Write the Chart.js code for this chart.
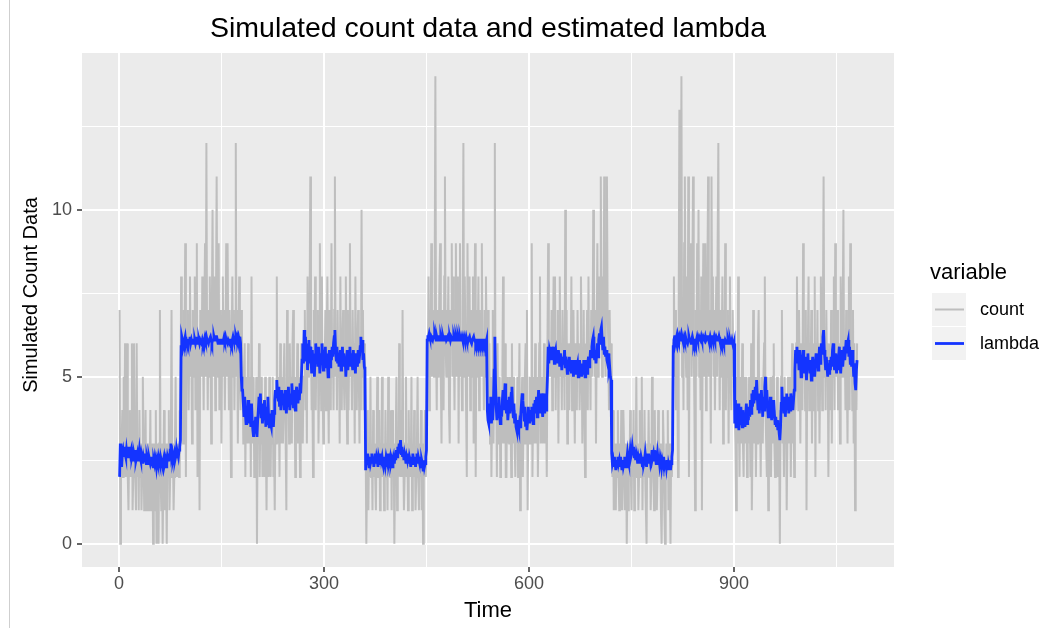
<!DOCTYPE html>
<html><head><meta charset="utf-8">
<script src="https://cdn.jsdelivr.net/npm/chart.js@4.4.1/dist/chart.umd.min.js"></script>
<style>
html,body{margin:0;padding:0;background:#fff;}
#wrap{position:relative;width:1045px;height:628px;overflow:hidden;}
#edge{position:absolute;left:9px;top:0;width:1px;height:628px;background:#cfcfcf;}
canvas{position:absolute;left:0;top:0;}
</style></head>
<body><div id="wrap"><canvas id="c" width="1045" height="628"></canvas><div id="edge"></div></div>
<script>
const chartTitle = 'Simulated count data and estimated lambda';
const xTitle = 'Time';
const yTitle = 'Simulated Count Data';
const legendTitle = 'variable';
const seriesNames = ['count', 'lambda'];
const xMajorTicks = [0, 300, 600, 900];
const xMinorTicks = [150, 450, 750, 1050];
const yMajorTicks = [0, 5, 10];
const yMinorTicks = [2.5, 7.5, 12.5];

const countValues = [
7,0,2,3,4,2,5,3,6,2, 3,6,2,1,3,4,2,3,6,1, 2,6,3,2,1,6,2,3,1,4, 2,3,1,2,5,3,1,2,4,1, 2,3,1,3,2,4,1,2,3,0,
2,3,1,4,0,2,3,0,3,7, 2,1,3,0,2,4,1,3,2,0, 3,2,4,1,2,3,7,2,3,1, 2,3,5,2,3,2,3,2,4,3,
8,6,5,3,7,6,9,2,6,5, 7,4,6,8,5,6,3,7,6,5, 8,4,7,9,2,6,5,1,7,6, 5,8,6,4,7,9,5,12,6,4, 7,5,8,6,3,7,10,6,5,8,
4,7,11,6,5,9,4,6,7,3, 6,8,5,7,4,6,9,5,9,6, 4,7,5,2,6,8,5,7,4,6, 12,5,7,3,6,8,5,4,7,6,
5,3,4,6,2,5,4,3,6,4, 3,5,2,8,4,3,5,2,4,3, 5,0,4,3,6,2,4,3,5,2, 3,4,2,5,3,1,4,3,2,5, 3,2,4,3,5,2,3,1,4,3,
8,3,5,4,2,6,3,5,4,3, 5,6,4,3,1,7,4,5,3,6, 4,5,3,6,7,4,5,2,5,4, 6,3,5,4,2,5,6,4,3,5,
5,7,4,6,3,8,5,6,7,11, 6,4,5,2,7,5,8,4,6,5, 7,3,5,9,6,4,8,5,3,6, 5,7,4,6,8,5,3,7,6,4, 9,5,6,4,7,11,5,6,4,7,
5,6,3,8,5,4,6,7,5,4, 6,8,5,3,7,4,6,9,5,6, 4,7,5,6,3,8,5,4,6,7, 5,3,6,4,10,5,7,4,6,5,
3,0,2,4,1,3,2,5,2,3, 1,4,2,3,2,1,3,5,2,2, 4,1,3,2,5,2,3,1,2,4, 2,3,1,5,2,3,2,4,1,4, 2,3,0,2,3,5,1,3,2,6,
3,2,4,2,7,3,1,2,3,5, 2,3,1,4,2,3,2,5,1,3, 2,4,3,1,2,3,5,2,1,3, 2,4,1,3,0,2,3,4,2,3,
6,5,8,4,7,6,9,5,7,6, 5,8,14,6,4,7,5,6,8,9, 5,3,7,6,4,8,11,6,5,7, 6,8,4,3,7,6,9,5,8,6, 4,7,9,5,6,8,3,7,9,5,
6,4,7,12,5,8,6,4,2,9, 6,5,8,4,7,6,5,8,3,6, 9,2,7,5,6,8,4,7,5,6, 9,5,6,4,7,5,8,6,4,7,
4,6,3,5,2,4,7,3,5,12, 4,5,2,6,3,4,5,2,4,3, 5,8,3,4,6,2,2,5,3,4, 3,5,4,2,6,3,5,4,3,2, 4,3,5,2,4,6,1,3,4,5,
2,4,3,5,6,3,7,1,4,3, 5,4,3,9,2,4,5,3,6,4, 3,5,2,4,6,8,3,4,5,3, 4,6,3,5,4,2,6,9,5,6,
6,5,7,4,6,8,5,8,4,6, 5,7,3,6,8,5,6,4,7,5, 6,4,10,5,7,3,6,5,4,6, 5,8,4,6,7,5,3,6,5,4, 7,5,6,4,5,8,6,3,5,7,
4,2,6,5,7,4,8,5,6,4, 7,5,6,10,8,5,7,3,6,9, 5,7,8,6,11,7,5,8,6,11, 6,5,9,11,7,6,4,7,5,6,
3,2,4,1,3,2,1,3,2,4, 2,1,3,2,4,1,2,4,3,1, 2,3,0,2,1,3,2,4,2,1, 3,2,4,1,3,2,5,2,3,1, 2,4,3,2,5,1,3,2,4,2,
1,0,3,2,4,2,3,1,2,5, 3,2,1,4,2,3,1,2,4,3, 2,3,1,0,2,4,3,1,0,2, 3,2,4,1,3,2,0,3,2,3,
6,8,5,7,4,6,5,2,7,13, 6,8,14,5,7,4,9,11,6,5, 8,4,11,2,7,6,9,5,8,11, 6,4,1,7,5,9,6,10,5,7, 4,8,1,6,9,5,7,9,4,6,
8,11,5,7,6,3,11,6,8,5, 7,4,6,8,5,9,12,6,4,7, 5,6,8,3,7,5,9,4,6,5, 7,3,6,8,5,4,6,7,5,6,
4,3,1,5,3,8,4,2,5,3, 4,6,3,2,5,4,3,5,2,4, 3,5,4,2,6,1,3,7,4,3, 5,2,4,3,6,7,3,4,2,5, 4,3,5,6,8,4,3,2,5,1,
4,3,5,2,4,3,5,6,3,2, 4,3,5,2,4,3,0,4,5,7, 3,4,2,5,3,4,1,3,5,4, 3,5,2,4,6,3,4,2,5,4,
6,8,5,4,7,5,3,6,5,4, 9,5,6,4,7,1,5,6,8,4, 6,5,7,3,6,5,4,8,2,6, 5,7,4,6,3,5,8,6,4,7, 11,5,6,4,7,5,6,2,5,6,
4,7,3,6,5,8,4,9,6,5, 7,4,6,5,3,8,6,5,7,10, 5,6,4,7,5,3,6,8,4,9, 5,6,4,7,3,6,1,5,4,6
];

const lambdaValues = [
2.0,3.0,2.6,2.3,2.7,2.8,2.6,2.9,2.7,2.6, 2.8,2.6,2.7,2.9,2.6,2.9,2.7,2.8,2.6,2.7, 2.5,2.7,2.6,2.8,2.5,2.6,2.7,2.5,2.6,2.8,
2.6,2.5,2.7,2.6,2.4,2.6,2.5,2.7,2.5,2.4, 2.6,2.5,2.4,2.6,2.5,2.4,2.5,2.6,2.4,2.3, 2.5,2.4,2.6,2.5,2.3,2.5,2.4,2.6,2.5,2.4,
2.6,2.5,2.4,2.3,2.5,2.6,2.4,2.5,2.3,2.4, 2.6,2.5,2.7,2.5,2.8,3.0,2.6,2.7,2.5,2.6, 2.7,2.5,2.6,2.8,2.6,2.7,2.6,2.8,2.9,3.1,
5.9,6.2,6.1,6.1,6.0,6.1,6.2,6.0,6.1,6.1, 6.0,6.1,6.1,6.2,6.0,6.1,6.0,6.1,6.1,6.0, 6.1,6.0,6.1,6.2,6.0,6.0,6.1,6.0,6.1,6.1,
6.0,6.1,6.0,6.1,6.1,6.2,6.1,6.2,6.1,6.1, 6.0,6.1,6.1,6.2,6.1,6.0,6.1,6.1,6.2,6.1, 6.1,6.2,6.2,6.1,6.0,6.1,6.1,6.0,6.1,6.1,
6.0,6.1,6.1,6.2,6.1,6.2,6.1,6.1,6.0,6.1, 6.1,6.0,6.1,6.1,6.0,6.1,6.2,6.1,6.1,6.0, 6.2,6.1,6.2,6.1,6.2,6.1,6.2,6.0,5.0,4.6,
4.6,4.2,3.8,4.4,3.9,3.6,4.1,3.7,4.3,3.8, 3.6,3.9,3.5,4.2,3.7,3.4,3.2,3.6,3.3,3.8, 3.4,3.2,3.7,4.0,4.4,3.9,4.5,3.8,4.2,3.6,
4.0,3.7,4.3,3.9,3.5,4.1,3.6,4.4,3.8,3.5, 3.9,3.6,3.5,4.0,3.7,3.5,3.9,4.3,4.6,4.4, 4.9,4.5,4.3,4.7,4.1,4.4,4.0,4.6,4.2,4.5,
4.3,4.0,4.6,4.2,3.9,4.4,4.1,4.7,4.3,4.0, 4.5,4.2,4.8,4.4,4.1,4.6,4.3,4.0,4.5,4.7, 4.4,4.2,4.6,4.3,4.8,4.5,5.0,5.5,6.0,5.4,
6.4,5.8,6.2,5.5,6.0,5.2,5.7,6.1,5.4,5.9, 5.6,5.1,5.8,5.3,5.7,5.0,5.6,6.0,5.4,5.8, 5.3,5.9,5.5,5.1,5.7,5.4,6.0,5.6,5.2,5.8,
5.5,5.9,5.3,5.7,5.4,5.0,5.6,5.8,5.3,5.7, 5.5,5.9,5.6,6.0,6.2,6.4,5.8,5.5,5.9,5.4, 5.7,5.3,5.6,5.8,5.2,5.5,5.9,5.4,5.7,5.3,
5.6,5.0,5.5,5.8,5.2,5.6,5.4,5.9,5.3,5.7, 5.5,5.2,5.8,5.4,5.6,5.1,5.7,5.5,5.3,5.8, 5.4,5.6,5.9,6.2,5.8,6.1,5.5,5.7,5.3,5.2,
2.2,2.6,2.4,2.7,2.5,2.3,2.6,2.4,2.5,2.7, 2.4,2.6,2.3,2.5,2.7,2.4,2.6,2.5,2.3,2.6, 2.5,2.4,2.7,2.5,2.6,2.4,2.3,2.5,2.6,2.4,
2.6,2.5,2.3,2.7,2.4,2.5,2.6,2.4,2.5,2.3, 2.5,2.6,2.4,2.7,2.5,2.8,2.6,2.9,2.7,3.0, 2.8,3.1,2.7,2.9,2.6,2.8,2.5,2.7,2.6,2.4,
2.6,2.5,2.7,2.4,2.6,2.5,2.3,2.6,2.4,2.7, 2.5,2.4,2.6,2.3,2.5,2.7,2.4,2.6,2.5,2.4, 2.6,2.3,2.5,2.4,2.2,2.5,2.3,2.4,2.6,2.8,
6.1,6.2,6.2,6.3,6.2,6.1,6.2,6.2,6.1,6.2, 6.2,6.3,6.2,6.1,6.2,6.1,6.1,6.2,6.2,6.1, 6.2,6.1,6.1,6.2,6.1,6.1,6.2,6.2,6.1,6.1,
6.2,6.1,6.1,6.2,6.1,6.2,6.2,6.1,6.1,6.2, 6.1,6.1,6.2,6.1,6.1,6.2,6.1,6.1,6.2,6.1, 6.1,6.2,6.1,6.1,6.2,6.1,6.1,6.2,6.1,6.0,
6.1,6.1,6.2,6.1,6.1,6.0,6.1,6.1,6.2,6.1, 6.1,6.0,6.1,6.1,6.0,6.1,6.1,6.0,6.1,6.1, 6.0,6.1,6.1,6.0,6.1,6.1,6.0,6.1,4.0,3.7,
3.6,4.2,3.8,4.4,3.6,4.0,3.7,4.3,5.2,6.2, 4.8,4.1,3.7,4.2,3.8,4.4,3.9,3.6,4.1,3.8, 4.3,4.6,4.0,4.4,4.8,4.2,3.9,4.3,3.7,4.0,
4.4,3.9,4.2,4.5,4.7,4.1,3.8,4.2,3.6,3.9, 3.5,3.4,3.7,3.5,3.4,3.6,3.5,3.9,4.2,4.5, 4.3,4.0,3.7,4.1,3.5,3.8,3.4,3.7,4.1,3.8,
3.6,4.0,3.7,4.1,3.9,3.6,4.2,3.9,4.3,4.0, 4.4,3.8,4.2,4.6,4.0,4.3,3.9,4.5,4.1,3.8, 4.2,4.5,3.9,4.3,4.0,4.4,5.0,5.9,5.4,5.8,
5.7,5.9,5.5,5.8,5.6,5.9,5.4,5.7,5.8,5.5, 5.7,5.4,5.8,5.6,5.3,5.7,5.5,5.2,5.6,5.4, 5.5,5.8,5.3,5.6,5.4,5.1,5.5,5.3,5.6,5.2,
5.4,5.1,5.5,5.3,5.0,5.4,5.2,5.5,5.1,5.3, 5.4,5.0,5.3,5.5,5.2,5.4,5.0,5.3,5.1,5.5, 5.2,5.0,5.3,5.5,5.1,5.4,5.6,5.3,5.5,5.8,
5.6,5.9,6.1,6.2,5.7,5.5,5.8,5.4,5.7,6.0, 5.6,6.1,6.3,6.0,6.4,6.5,6.1,5.8,6.2,5.7, 5.9,5.6,5.8,5.5,5.4,5.7,5.2,5.3,5.0,4.9,
2.7,2.4,2.5,2.3,2.6,2.4,2.2,2.5,2.3,2.6, 2.4,2.5,2.3,2.6,2.4,2.2,2.5,2.3,2.4,2.6, 2.4,2.3,2.5,2.7,2.5,2.4,2.6,2.8,2.6,2.7,
2.9,2.7,2.9,2.6,2.8,2.5,2.7,2.6,2.4,2.6, 2.5,2.7,2.4,2.6,2.5,2.3,2.6,2.4,2.5,2.7, 2.5,2.3,2.6,2.4,2.7,2.5,2.6,2.4,2.5,2.8,
2.6,2.7,2.5,2.8,2.6,2.4,2.5,2.7,2.5,2.6, 2.4,2.6,2.5,2.3,2.5,2.4,2.6,2.3,2.4,2.5, 2.3,2.5,2.2,2.4,2.3,2.5,2.2,2.4,2.6,2.8,
5.9,6.1,6.2,6.2,6.1,6.2,6.3,6.2,6.1,6.2, 6.1,6.2,6.3,6.2,6.1,6.1,6.2,6.1,6.2,6.1, 6.1,6.0,6.1,6.2,6.1,6.1,6.0,6.1,6.2,6.1,
6.0,6.1,6.1,6.0,6.1,6.2,6.1,6.1,6.2,6.2, 6.1,6.2,6.1,6.1,6.2,6.2,6.1,6.2,6.1,6.1, 6.2,6.2,6.1,6.1,6.2,6.1,6.2,6.2,6.1,6.1,
6.2,6.1,6.1,6.2,6.2,6.1,6.1,6.2,6.1,6.1, 6.1,6.0,6.1,6.1,6.0,6.0,6.1,6.1,6.0,6.0, 6.1,6.0,6.0,6.1,6.0,6.0,6.1,6.0,5.9,6.0,
3.6,4.3,3.5,4.0,3.7,4.2,3.4,3.9,3.6,4.1, 3.7,3.5,4.0,3.6,3.9,3.5,3.8,4.2,3.6,4.0, 3.7,4.1,3.8,4.3,3.9,4.5,4.1,4.6,4.2,4.4,
4.7,4.3,4.9,4.4,4.0,4.5,3.9,4.3,4.1,4.6, 4.2,3.8,4.4,4.0,4.7,5.0,4.3,4.6,4.1,3.8, 4.2,3.9,4.4,4.0,3.7,4.1,3.8,4.3,3.9,3.6,
3.8,3.5,3.7,3.4,3.6,3.3,3.1,3.5,4.2,4.7, 4.1,4.4,3.9,4.3,3.8,4.2,4.5,4.0,4.4,3.9, 4.3,4.0,4.5,4.1,4.4,4.0,4.3,4.6,5.2,5.8,
5.6,5.9,5.4,5.7,5.2,5.8,5.5,5.0,5.6,5.3, 5.8,5.4,5.1,5.6,5.3,4.9,5.4,5.7,5.2,5.5, 5.1,5.4,4.9,5.3,5.6,5.2,5.5,5.0,5.4,5.7,
5.3,5.6,5.2,5.5,5.9,5.4,5.8,6.0,5.7,6.2, 6.4,5.8,5.5,5.2,5.6,5.3,5.0,5.4,5.1,5.5, 5.2,5.6,5.3,5.8,6.0,5.5,5.2,5.7,5.4,5.1,
5.5,5.2,5.6,5.9,5.4,5.1,5.5,5.8,5.3,5.6, 5.9,5.5,5.8,6.1,5.7,6.0,6.1,5.6,5.9,5.4, 5.7,5.3,5.8,5.5,5.0,5.4,4.8,4.6,5.2,5.5
];

const timeIndex = countValues.map((_, i) => i + 1);

const FAMILY = '"Liberation Sans", Arial, Helvetica, sans-serif';
Chart.defaults.font.family = FAMILY;

const countColor = '#BEBEBE';
const lambdaColor = '#1434FF';

const ggPanel = {
  id: 'ggPanel',
  beforeDraw(chart) {
    const {ctx, chartArea: a} = chart;
    ctx.save();
    ctx.fillStyle = '#EBEBEB';
    ctx.fillRect(a.left, a.top, a.right - a.left, a.bottom - a.top);
    ctx.restore();
  },
  afterDraw(chart) {
    const ctx = chart.ctx;
    // y axis title
    ctx.save();
    ctx.translate(31, 295);
    ctx.rotate(-Math.PI / 2);
    ctx.font = '20px ' + FAMILY;
    ctx.fillStyle = '#000';
    ctx.textAlign = 'center';
    ctx.textBaseline = 'middle';
    ctx.fillText(yTitle, 0, 0);
    ctx.restore();
    // legend
    ctx.save();
    ctx.font = '22px ' + FAMILY;
    ctx.fillStyle = '#000';
    ctx.textAlign = 'left';
    ctx.textBaseline = 'alphabetic';
    ctx.fillText(legendTitle, 930, 279);
    chart.data.datasets.forEach((ds, i) => {
      const y0 = 293 + i * 34;
      ctx.fillStyle = '#F2F2F2';
      ctx.fillRect(932, y0, 34, 33);
      ctx.strokeStyle = ds.borderColor;
      ctx.lineWidth = ds.borderWidth;
      ctx.beginPath();
      ctx.moveTo(935, y0 + 16.5);
      ctx.lineTo(964, y0 + 16.5);
      ctx.stroke();
      ctx.fillStyle = '#000';
      ctx.font = '18px ' + FAMILY;
      ctx.textBaseline = 'middle';
      ctx.fillText(ds.label, 980, y0 + 17);
    });
    ctx.restore();
  }
};

const isMajor = (list, v) => list.includes(v);

new Chart(document.getElementById('c').getContext('2d'), {
  type: 'line',
  data: {
    datasets: [
      { label: seriesNames[0], data: timeIndex.map((t, i) => ({x: t, y: countValues[i]})),
        borderColor: countColor, borderWidth: 2, pointRadius: 0, tension: 0, order: 1, fill: false },
      { label: seriesNames[1], data: timeIndex.map((t, i) => ({x: t, y: lambdaValues[i]})),
        borderColor: lambdaColor, borderWidth: 2.8, pointRadius: 0, tension: 0, order: 0, fill: false }
    ]
  },
  options: {
    responsive: false,
    animation: false,
    devicePixelRatio: 1,
    events: [],
    layout: { padding: { left: 0, right: 151, top: 0, bottom: 0 } },
    plugins: {
      legend: { display: false },
      tooltip: { enabled: false },
      title: {
        display: true, text: chartTitle, fullSize: false, color: '#000',
        font: { size: 28.5, weight: 'normal', family: FAMILY },
        padding: { top: 12.5, bottom: 6.3 }
      }
    },
    scales: {
      x: {
        type: 'linear', min: -54, max: 1134,
        afterBuildTicks: s => { s.ticks = [...xMajorTicks, ...xMinorTicks].sort((a, b) => a - b).map(v => ({value: v})); },
        afterFit: s => { s.height = 61; },
        border: { display: false },
        grid: {
          color: '#FFFFFF',
          lineWidth: c => (c.tick && isMajor(xMajorTicks, c.tick.value)) ? 2 : 1,
          tickColor: c => (c.tick && isMajor(xMajorTicks, c.tick.value)) ? '#333333' : 'rgba(0,0,0,0)',
          tickLength: 5, tickWidth: 1.5
        },
        ticks: {
          autoSkip: false, maxRotation: 0, color: '#4D4D4D', padding: 1,
          font: { size: 18, family: FAMILY },
          callback: v => isMajor(xMajorTicks, v) ? String(v) : ''
        },
        title: { display: true, text: xTitle, color: '#000', font: { size: 22, family: FAMILY }, padding: { top: 0, bottom: 3.5 } }
      },
      y: {
        type: 'linear', min: -0.7, max: 14.7,
        afterBuildTicks: s => { s.ticks = [...yMajorTicks, ...yMinorTicks].sort((a, b) => a - b).map(v => ({value: v})); },
        afterFit: s => { s.width = 82; },
        border: { display: false },
        grid: {
          color: '#FFFFFF',
          lineWidth: c => (c.tick && isMajor(yMajorTicks, c.tick.value)) ? 2 : 1,
          tickColor: c => (c.tick && isMajor(yMajorTicks, c.tick.value)) ? '#333333' : 'rgba(0,0,0,0)',
          tickLength: 5, tickWidth: 1.5
        },
        ticks: {
          autoSkip: false, color: '#4D4D4D', padding: 5,
          font: { size: 18, family: FAMILY },
          callback: v => isMajor(yMajorTicks, v) ? String(v) : ''
        },
        title: { display: false }
      }
    }
  },
  plugins: [ggPanel]
});
</script></body></html>
